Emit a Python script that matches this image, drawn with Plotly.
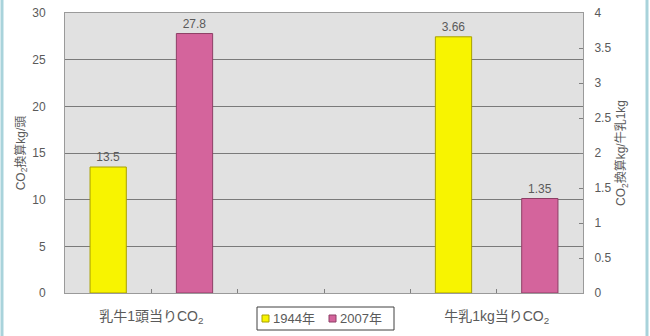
import plotly.graph_objects as go

# Data
categories = ["乳牛1頭当りCO<sub>2</sub>", "牛乳1kg当りCO<sub>2</sub>"]
years = ["1944年", "2007年"]
values_1944 = [13.5, 3.66]   # per head (left axis), per kg milk (right axis)
values_2007 = [27.8, 1.35]
left_ticks = [0, 5, 10, 15, 20, 25, 30]
right_ticks = [0, 0.5, 1, 1.5, 2, 2.5, 3, 3.5, 4]

series = [values_1944, values_2007]
fills = ["#F8F400", "#D4649C"]
edges = ["#A8A000", "#8E3F66"]

TEXT = "#5a5a5a"
FONT = "Liberation Sans, Noto Sans CJK JP, sans-serif"

# Six equal slots on x: group g uses slots 4g and 4g+1
GROUP_STEP = 4
BAR_W = 0.42

# plot area in pixels
W, H = 650, 336
ML, MR, MT, MB = 65, 67, 13, 43
PW, PH = W - ML - MR, H - MT - MB


def px_x(x):
    return (x - ML) / PW


def px_y(y):
    return (H - MB - y) / PH


fig = go.Figure()
for s, (vals, name) in enumerate(zip(series, years)):
    for g, v in enumerate(vals):
        fig.add_trace(go.Bar(
            x=[GROUP_STEP * g + s],
            y=[v],
            width=BAR_W,
            name=name,
            showlegend=False,
            yaxis="y" if g == 0 else "y2",
            marker=dict(color=fills[s], line=dict(color=edges[s], width=1)),
            text=[f"{v:g}"],
            textposition="outside",
            cliponaxis=False,
            textfont=dict(size=12, color=TEXT, family=FONT),
            hoverinfo="skip",
        ))

label_pos = [GROUP_STEP * g + 0.5 for g in range(len(categories))]

fig.update_layout(
    width=W, height=H,
    margin=dict(l=ML, r=MR, t=MT, b=MB, autoexpand=False),
    paper_bgcolor="white",
    plot_bgcolor="#E1E1E1",
    barmode="overlay",
    font=dict(family=FONT, size=12, color=TEXT),
    xaxis=dict(
        range=[-0.5, 5.5], automargin=False,
        tickmode="array", tickvals=label_pos, ticktext=categories,
        ticks="inside", ticklen=4, tickcolor="#808080",
        minor=dict(tickmode="linear", tick0=0.5, dtick=1, ticks="inside",
                   ticklen=4, tickcolor="#808080", showgrid=False),
        showgrid=False, zeroline=False,
        showline=True, linecolor="#9a9a9a", linewidth=1, mirror=True,
        tickfont=dict(size=14, color=TEXT),
        ticklabelstandoff=10,
        fixedrange=True,
    ),
    yaxis=dict(
        range=[0, 30], tickvals=left_ticks, automargin=False,
        showgrid=True, gridcolor="#7a7a7a", gridwidth=1,
        zeroline=False, ticks="",
        showline=True, linecolor="#9a9a9a", linewidth=1,
        tickfont=dict(size=12, color=TEXT),
        ticklabelstandoff=16,
        title=dict(text="CO<sub>2</sub>換算kg/頭", font=dict(size=12, color=TEXT), standoff=4),
    ),
    yaxis2=dict(
        range=[0, 4], tickvals=right_ticks, automargin=False,
        overlaying="y", side="right",
        showgrid=False, zeroline=False,
        ticks="inside", ticklen=4, tickcolor="#808080",
        showline=True, linecolor="#9a9a9a", linewidth=1,
        tickfont=dict(size=12, color=TEXT),
        ticklabelstandoff=8,
        title=dict(text="CO<sub>2</sub>換算kg/牛乳1kg", font=dict(size=12, color=TEXT), standoff=6),
    ),
)

# Legend box below the plot: swatch + year label for each series
LEG_X0, LEG_X1, LEG_Y0, LEG_Y1 = 257, 394, 307, 330
fig.add_shape(type="rect", xref="paper", yref="paper",
              x0=px_x(LEG_X0), x1=px_x(LEG_X1), y0=px_y(LEG_Y1), y1=px_y(LEG_Y0),
              line=dict(color="#404040", width=1), fillcolor="white")
entry_x = [262, 329]
SW = 7
yc = (LEG_Y0 + LEG_Y1) / 2
for ex, name, fc, ec in zip(entry_x, years, fills, edges):
    fig.add_shape(type="rect", xref="paper", yref="paper",
                  x0=px_x(ex), x1=px_x(ex + SW),
                  y0=px_y(yc + SW / 2), y1=px_y(yc - SW / 2),
                  line=dict(color=ec, width=1), fillcolor=fc)
    fig.add_annotation(xref="paper", yref="paper", x=px_x(ex + SW + 2), y=px_y(yc),
                       xanchor="left", yanchor="middle", showarrow=False,
                       text=name, font=dict(size=13, color=TEXT, family=FONT))

# light blue frame lines at the left and right page edges
for xpx in (2, 647):
    fig.add_shape(type="line", xref="paper", yref="paper",
                  x0=px_x(xpx), x1=px_x(xpx), y0=px_y(H), y1=px_y(0),
                  line=dict(color="#A9D3DB", width=3))

fig.write_html("out.html")
